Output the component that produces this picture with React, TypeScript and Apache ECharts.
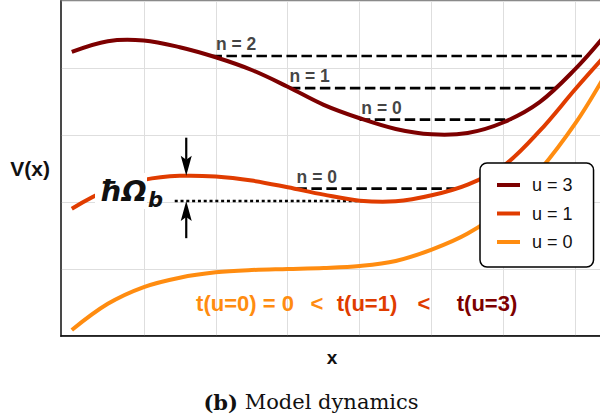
import { useEffect, useRef } from 'react';
import * as echarts from 'echarts';

// Potential curves V(x) for three driving strengths u, sampled on a shared x grid
const curveNames = ['u = 3', 'u = 1', 'u = 0'];
const curveColors = ['#7d0000', '#e03c00', '#ff8c10'];

const xSamples = [0, 0.5, 1, 1.5, 2, 2.5, 3, 3.5, 4, 4.5, 5, 5.5, 6, 6.5, 7, 7.38];
const vU3 = [4.24, 4.4, 4.41, 4.31, 4.16, 3.97, 3.72, 3.45, 3.25, 3.09, 3.01, 3.03, 3.19, 3.49, 3.99, 4.45];
const vU1 = [1.9, 2.18, 2.33, 2.39, 2.38, 2.32, 2.22, 2.11, 2.02, 2.01, 2.1, 2.26, 2.54, 3.06, 3.69, 4.15];
const vU0 = [0.09, 0.48, 0.73, 0.87, 0.95, 0.985, 1.0, 1.015, 1.045, 1.12, 1.29, 1.53, 1.9, 2.47, 3.18, 3.84];

// Bound-state levels inside the wells
const levelNames = ['n = 2', 'n = 1', 'n = 0', 'n = 0'];
const levelValues = [4.18, 3.7, 3.23, 2.2];
const levelStarts = [1.94, 3.03, 4.0, 3.12];
const levelEnds = [7.15, 6.78, 6.11, 5.35];
const levelLabelX = [2.01, 3.03, 4.03, 3.13];

// Barrier height marker for u = 1
const barrierX = 1.59;
const barrierTop = 2.39;
const barrierBase = 2.015;
const barrierLineStart = 1.43;
const barrierLineEnd = 4.03;
const arrowTails = [2.96, 1.46];

const X_MIN = -0.15;
const X_MAX = 7.38;
const Y_MIN = 0;
const Y_MAX = 5;

const SANS = 'Liberation Sans, Arial, sans-serif';
const DEJAVU = 'DejaVu Sans, sans-serif';
const SERIF = 'DejaVu Serif, serif';

const GRID_LEFT = 61;
const GRID_TOP = 1;
const GRID_W = 542;
const GRID_H = 335;
const SPLIT_GRID_LEFT = 100;

export default function App() {
  const ref = useRef<HTMLDivElement>(null);

  useEffect(() => {
    if (!ref.current) return;
    const chart = echarts.init(ref.current, undefined, { renderer: 'svg' });

    const pxPerUnit = GRID_W / (X_MAX - X_MIN);
    const splitMin = X_MIN + (SPLIT_GRID_LEFT - GRID_LEFT) / pxPerUnit;

    // Each curve is one smooth spline through its samples, placed with the axis scales
    const curves = [vU3, vU1, vU0].map((vs, i) => ({
      type: 'custom',
      name: curveNames[i],
      data: xSamples.map((x, k) => [x, vs[k]]),
      encode: { x: 0, y: 1 },
      itemStyle: { color: curveColors[i] },
      renderItem: (params: any, api: any) => {
        if (params.dataIndex !== 0) return null;
        const points = xSamples.map((x, k) => api.coord([x, vs[k]]));
        return {
          type: 'polyline',
          shape: { points, smooth: 0.35 },
          style: { stroke: curveColors[i], lineWidth: 4, fill: 'none' },
        };
      },
      z: 3,
      silent: true,
    }));

    const levels = levelNames.map((_, i) => ({
      type: 'line',
      data: [
        [levelStarts[i], levelValues[i]],
        [levelEnds[i], levelValues[i]],
      ],
      showSymbol: false,
      symbol: 'none',
      lineStyle: { color: '#000', width: 2.6, type: [10.5, 4.5] },
      z: 2,
      silent: true,
    }));

    const baseLine = {
      type: 'line',
      data: [
        [barrierLineStart, barrierBase],
        [barrierLineEnd, barrierBase],
      ],
      showSymbol: false,
      symbol: 'none',
      lineStyle: { color: '#000', width: 2.7, type: [3, 2.8] },
      z: 2,
      silent: true,
    };

    const levelLabels = {
      type: 'scatter',
      data: levelNames.map((n, i) => [levelLabelX[i], levelValues[i], n]),
      symbolSize: 1,
      itemStyle: { color: 'rgba(0,0,0,0)' },
      label: {
        show: true,
        formatter: (p: any) => p.value[2],
        position: [0, 0],
        align: 'left',
        verticalAlign: 'middle',
        offset: [0, -11.5],
        fontFamily: SANS,
        fontWeight: 'bold',
        fontSize: 17.5,
        color: '#111',
      },
      z: 4,
      silent: true,
    };

    const arrows = {
      type: 'custom',
      data: arrowTails.map((t, i) => [barrierX, t, i === 0 ? barrierTop : barrierBase]),
      renderItem: (_params: any, api: any) => {
        const x = api.value(0);
        const tail = api.coord([x, api.value(1)]);
        const tip = api.coord([x, api.value(2)]);
        const dir = tip[1] > tail[1] ? 1 : -1;
        const headLen = 20;
        const headHalf = 5.5;
        const notch = 4;
        return {
          type: 'group',
          children: [
            {
              type: 'line',
              shape: { x1: tail[0], y1: tail[1], x2: tip[0], y2: tip[1] - dir * (headLen - notch) },
              style: { stroke: '#000', lineWidth: 2.2 },
            },
            {
              type: 'polygon',
              shape: {
                points: [
                  [tip[0], tip[1]],
                  [tip[0] - headHalf, tip[1] - dir * headLen],
                  [tip[0], tip[1] - dir * (headLen - notch)],
                  [tip[0] + headHalf, tip[1] - dir * headLen],
                ],
              },
              style: { fill: '#000' },
            },
          ],
        };
      },
      z: 7,
      silent: true,
    };

    const textPieces = [
      { text: 't(u=0) = 0', x: 245, color: curveColors[2] },
      { text: '<', x: 317, color: curveColors[2] },
      { text: 't(u=1)', x: 367, color: curveColors[1] },
      { text: '<', x: 424, color: curveColors[1] },
      { text: 't(u=3)', x: 487, color: curveColors[0] },
    ];

    chart.setOption({
      animation: false,
      backgroundColor: '#fff',
      grid: [
        {
          left: GRID_LEFT,
          top: GRID_TOP,
          width: GRID_W,
          height: GRID_H,
          show: true,
          borderColor: '#8a8a8a',
          borderWidth: 2,
          backgroundColor: 'transparent',
        },
        { left: SPLIT_GRID_LEFT, top: GRID_TOP, width: GRID_W - (SPLIT_GRID_LEFT - GRID_LEFT), height: GRID_H },
      ],
      xAxis: [
        {
          type: 'value',
          gridIndex: 0,
          min: X_MIN,
          max: X_MAX,
          name: 'x',
          nameLocation: 'middle',
          nameGap: 21,
          nameTextStyle: {
            fontFamily: SANS,
            fontWeight: 'bold',
            fontSize: 19,
            color: '#111',
            align: 'center',
            verticalAlign: 'middle',
          },
          axisLine: { show: true, onZero: false, lineStyle: { color: '#000', width: 1.5 } },
          axisTick: { show: false },
          axisLabel: { show: false },
          splitLine: { show: false },
        },
        {
          type: 'value',
          gridIndex: 1,
          min: splitMin,
          max: X_MAX,
          splitNumber: 7,
          minInterval: 1,
          maxInterval: 1,
          axisLine: { show: false },
          axisTick: { show: false },
          axisLabel: { show: false },
          splitLine: {
            show: true,
            showMinLine: false,
            showMaxLine: false,
            lineStyle: { color: '#dedede', width: 1 },
          },
        },
      ],
      yAxis: [
        {
          type: 'value',
          gridIndex: 0,
          min: Y_MIN,
          max: Y_MAX,
          interval: 1,
          name: 'V(x)',
          nameLocation: 'middle',
          nameRotate: 0,
          nameGap: 11,
          nameTextStyle: {
            fontFamily: SANS,
            fontWeight: 'bold',
            fontSize: 21,
            color: '#111',
            align: 'right',
            verticalAlign: 'middle',
          },
          axisLine: { show: true, onZero: false, lineStyle: { color: '#333', width: 1.5 } },
          axisTick: { show: false },
          axisLabel: { show: false },
          splitLine: { show: true, lineStyle: { color: '#dedede', width: 1 } },
        },
        { type: 'value', gridIndex: 1, min: Y_MIN, max: Y_MAX, show: false },
      ],
      legend: {
        data: curveNames.map((n, i) => ({ name: n, itemStyle: { color: curveColors[i] } })),
        orient: 'vertical',
        left: 480,
        top: 163,
        padding: [13, 21, 16, 17],
        itemGap: 10.5,
        itemWidth: 23,
        itemHeight: 4,
        icon: 'rect',
        backgroundColor: '#fff',
        borderColor: '#000',
        borderWidth: 1.5,
        borderRadius: 7,
        textStyle: { fontFamily: SANS, fontSize: 18, color: '#111', padding: [0, 0, 0, 7] },
        selectedMode: false,
        z: 6,
      },
      graphic: [
        { type: 'rect', shape: { x: 95, y: 173, width: 52, height: 36 }, style: { fill: '#fff' }, z: 5 },
        {
          type: 'text',
          x: 99,
          y: 191,
          style: {
            text: 'ħΩ',
            fontFamily: DEJAVU,
            fontStyle: 'italic',
            fontWeight: 'bold',
            fontSize: 29,
            fill: '#111',
            align: 'left',
            verticalAlign: 'middle',
          },
          z: 6,
        },
        {
          type: 'text',
          x: 148,
          y: 200,
          style: {
            text: 'b',
            fontFamily: DEJAVU,
            fontStyle: 'italic',
            fontWeight: 'bold',
            fontSize: 21,
            fill: '#111',
            align: 'left',
            verticalAlign: 'middle',
          },
          z: 6,
        },
        ...textPieces.map((p) => ({
          type: 'text',
          x: p.x,
          y: 303,
          style: {
            text: p.text,
            fontFamily: SANS,
            fontWeight: 'bold',
            fontSize: 22,
            fill: p.color,
            align: 'center',
            verticalAlign: 'middle',
          },
          z: 1,
        })),
        {
          type: 'text',
          x: 311,
          y: 402,
          style: {
            text: '{b|(b)}  {r|Model dynamics}',
            align: 'center',
            verticalAlign: 'middle',
            rich: {
              b: { fontFamily: SERIF, fontWeight: 'bold', fontSize: 21, fill: '#111' },
              r: { fontFamily: SERIF, fontSize: 21, fill: '#111' },
            },
          },
        },
      ],
      series: [...curves, ...levels, baseLine, levelLabels, arrows],
    });

    return () => chart.dispose();
  }, []);

  return (
    <div style={{ position: 'absolute', left: 0, top: 0, width: 600, height: 418, overflow: 'hidden', background: '#fff' }}>
      <div ref={ref} style={{ width: 620, height: 418 }} />
    </div>
  );
}
